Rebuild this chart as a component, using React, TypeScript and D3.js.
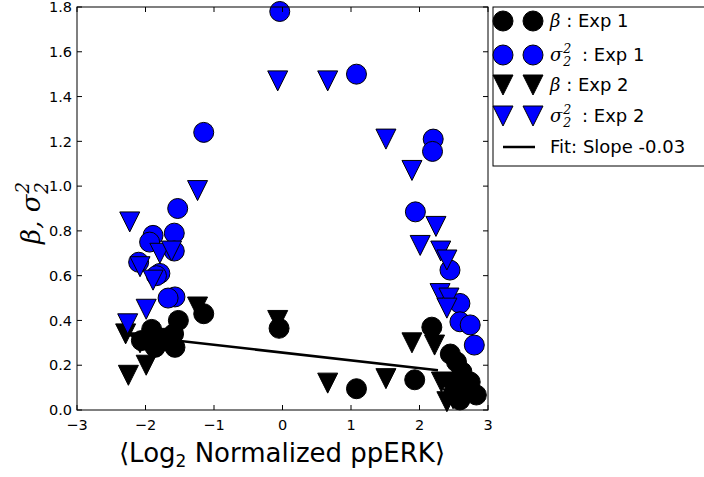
import React, { useEffect } from 'react';
import * as d3 from 'd3';

const W = 704;
const H = 477;

// ---- data ----
const xTicks = [-3, -2, -1, 0, 1, 2, 3];
const yTicks = [0, 0.2, 0.4, 0.6, 0.8, 1.0, 1.2, 1.4, 1.6, 1.8];

const betaExp1: [number, number][] = [
  [-1.15, 0.43], [-1.52, 0.40], [-1.59, 0.34], [-1.57, 0.28], [-1.74, 0.31],
  [-1.86, 0.28], [-1.91, 0.36], [-2.06, 0.31], [-0.05, 0.365], [1.08, 0.095],
  [2.18, 0.37], [1.93, 0.135], [2.45, 0.25], [2.54, 0.215], [2.62, 0.17],
  [2.49, 0.125], [2.74, 0.125], [2.69, 0.09], [2.83, 0.067], [2.59, 0.045],
];

const sigmaExp1: [number, number][] = [
  [-0.04, 1.78], [1.08, 1.50], [-1.15, 1.24], [-1.53, 0.90], [-1.58, 0.79],
  [-1.89, 0.78], [-1.94, 0.75], [-1.58, 0.71], [-2.10, 0.66], [-1.79, 0.61],
  [-1.84, 0.60], [-1.57, 0.505], [-1.67, 0.50], [2.20, 1.21], [2.19, 1.155],
  [1.94, 0.885], [2.445, 0.625], [2.59, 0.476], [2.59, 0.394], [2.74, 0.38],
  [2.80, 0.29],
];

const betaExp2: [number, number][] = [
  [-0.07, 0.40], [0.66, 0.12], [1.51, 0.14], [-1.24, 0.46], [-2.29, 0.34],
  [-2.08, 0.30], [-1.99, 0.20], [-2.25, 0.155], [-1.80, 0.32], [1.89, 0.30],
  [2.22, 0.29], [2.32, 0.125], [2.40, 0.037], [2.49, 0.05],
];

const sigmaExp2: [number, number][] = [
  [-0.07, 1.47], [0.66, 1.47], [1.51, 1.21], [-1.24, 0.98], [-2.23, 0.84],
  [-1.79, 0.70], [-1.62, 0.71], [-2.08, 0.64], [-1.89, 0.58], [-1.99, 0.45],
  [-2.26, 0.385], [1.89, 1.07], [2.24, 0.82], [2.01, 0.735], [2.31, 0.71],
  [2.40, 0.67], [2.30, 0.52], [2.43, 0.50], [2.40, 0.455],
];

const fitSlope = -0.0348;
const fitIntercept = 0.2563;
const fitRange = [-2.3, 2.27];
const fitLabel = 'Fit: Slope -0.03';

// ---- layout ----
const plotL = 77, plotR = 488, plotT = 7, plotB = 410;
const MR = 10; // marker half-size
const BLUE = '#0000ff';

const x = d3.scaleLinear().domain([-3, 3]).range([plotL, plotR]);
const y = d3.scaleLinear().domain([0, 1.8]).range([plotB, plotT]);

const tri = (r: number) => `M0,${r}L${-r},${-r}L${r},${-r}Z`;

const fmtX = (v: number) => (v < 0 ? '\u2212' + Math.abs(v) : String(v));
const fmtY = d3.format('.1f');

const SANS = 'DejaVu Sans, sans-serif';
const SERIF = 'DejaVu Serif, serif';

function Circles({ data, fill }: { data: [number, number][]; fill: string }) {
  return (
    <g>
      {data.map((d, i) => (
        <circle key={i} cx={x(d[0])} cy={y(d[1])} r={MR} fill={fill} stroke="#000" strokeWidth={1} />
      ))}
    </g>
  );
}

function Tris({ data, fill }: { data: [number, number][]; fill: string }) {
  return (
    <g>
      {data.map((d, i) => (
        <path key={i} d={tri(MR)} transform={`translate(${x(d[0])},${y(d[1])})`} fill={fill} stroke="#000" strokeWidth={1} />
      ))}
    </g>
  );
}

function SigmaLabel({ tx, ty, size }: { tx: number; ty: number; size: number }) {
  return (
    <text x={tx} y={ty} fontFamily={SERIF} fontStyle="italic" fontSize={size} fill="#000">
      σ
      <tspan fontSize={size * 0.7} dy={-size * 0.45} dx={1}>2</tspan>
      <tspan fontSize={size * 0.7} dy={size * 0.75} dx={-size * 0.7 * 0.636}>2</tspan>
    </text>
  );
}

export default function App() {
  useEffect(() => {
    document.body.style.margin = '0';
  }, []);

  const fitLine = d3.line<number>()
    .x((v) => x(v))
    .y((v) => y(fitIntercept + fitSlope * v));

  const legendRows = [21, 55, 85, 116, 147];
  const lm1 = 503, lm2 = 533, lt = 550;

  return (
    <svg width={W} height={H} style={{ position: 'absolute', left: 0, top: 0, display: 'block' }}>
      <rect x={0} y={0} width={W} height={H} fill="#fff" />

      {/* fit line */}
      <path d={fitLine(fitRange) || ''} fill="none" stroke="#000" strokeWidth={2.5} />

      {/* markers */}
      <Circles data={betaExp1} fill="#000" />
      <Tris data={betaExp2} fill="#000" />
      <Circles data={sigmaExp1} fill={BLUE} />
      <Tris data={sigmaExp2} fill={BLUE} />

      {/* frame */}
      <rect x={plotL} y={plotT} width={plotR - plotL} height={plotB - plotT} fill="none" stroke="#000" strokeWidth={1} />

      {/* ticks */}
      {xTicks.map((t) => (
        <g key={'x' + t}>
          <line x1={x(t)} x2={x(t)} y1={plotB} y2={plotB - 5} stroke="#000" />
          <line x1={x(t)} x2={x(t)} y1={plotT} y2={plotT + 5} stroke="#000" />
          <text x={x(t)} y={430} textAnchor="middle" fontFamily={SANS} fontSize={14.5} fill="#000">{fmtX(t)}</text>
        </g>
      ))}
      {yTicks.map((t) => (
        <g key={'y' + t}>
          <line x1={plotL} x2={plotL + 5} y1={y(t)} y2={y(t)} stroke="#000" />
          <line x1={plotR} x2={plotR - 5} y1={y(t)} y2={y(t)} stroke="#000" />
          <text x={72} y={y(t)} dy="0.36em" textAnchor="end" fontFamily={SANS} fontSize={14.5} fill="#000">{fmtY(t)}</text>
        </g>
      ))}

      {/* x label */}
      <text x={282} y={462} textAnchor="middle" fontFamily={SANS} fontSize={26} fill="#000">
        ⟨Log<tspan fontSize={17} dy={5}>2</tspan><tspan dy={-5}> Normalized ppERK⟩</tspan>
      </text>

      {/* y label */}
      <g transform="translate(40,213) rotate(-90)">
        <text x={0} y={0} textAnchor="middle" fontFamily={SERIF} fontStyle="italic" fontSize={26} fill="#000">
          β, σ
          <tspan fontSize={18} dy={-11} dx={1}>2</tspan>
          <tspan fontSize={18} dy={19} dx={-11.5}>2</tspan>
        </text>
      </g>

      {/* legend */}
      <rect x={493} y={7} width={260} height={159} fill="#fff" stroke="#000" strokeWidth={1} />
      <circle cx={lm1} cy={legendRows[0]} r={MR} fill="#000" stroke="#000" />
      <circle cx={lm2} cy={legendRows[0]} r={MR} fill="#000" stroke="#000" />
      <text x={lt} y={legendRows[0]} dy="0.36em" fontFamily={SANS} fontSize={18} fill="#000">
        <tspan fontFamily={SERIF} fontStyle="italic">β</tspan> : Exp 1
      </text>

      <circle cx={lm1} cy={legendRows[1]} r={MR} fill={BLUE} stroke="#000" />
      <circle cx={lm2} cy={legendRows[1]} r={MR} fill={BLUE} stroke="#000" />
      <SigmaLabel tx={lt} ty={legendRows[1] + 6} size={18} />
      <text x={lt + 32} y={legendRows[1]} dy="0.36em" fontFamily={SANS} fontSize={18} fill="#000">: Exp 1</text>

      <path d={tri(MR)} transform={`translate(${lm1},${legendRows[2]})`} fill="#000" stroke="#000" />
      <path d={tri(MR)} transform={`translate(${lm2},${legendRows[2]})`} fill="#000" stroke="#000" />
      <text x={lt} y={legendRows[2]} dy="0.36em" fontFamily={SANS} fontSize={18} fill="#000">
        <tspan fontFamily={SERIF} fontStyle="italic">β</tspan> : Exp 2
      </text>

      <path d={tri(MR)} transform={`translate(${lm1},${legendRows[3]})`} fill={BLUE} stroke="#000" />
      <path d={tri(MR)} transform={`translate(${lm2},${legendRows[3]})`} fill={BLUE} stroke="#000" />
      <SigmaLabel tx={lt} ty={legendRows[3] + 6} size={18} />
      <text x={lt + 32} y={legendRows[3]} dy="0.36em" fontFamily={SANS} fontSize={18} fill="#000">: Exp 2</text>

      <line x1={503} x2={535} y1={legendRows[4]} y2={legendRows[4]} stroke="#000" strokeWidth={2.5} />
      <text x={lt} y={legendRows[4]} dy="0.36em" fontFamily={SANS} fontSize={18} fill="#000">{fitLabel}</text>
    </svg>
  );
}
